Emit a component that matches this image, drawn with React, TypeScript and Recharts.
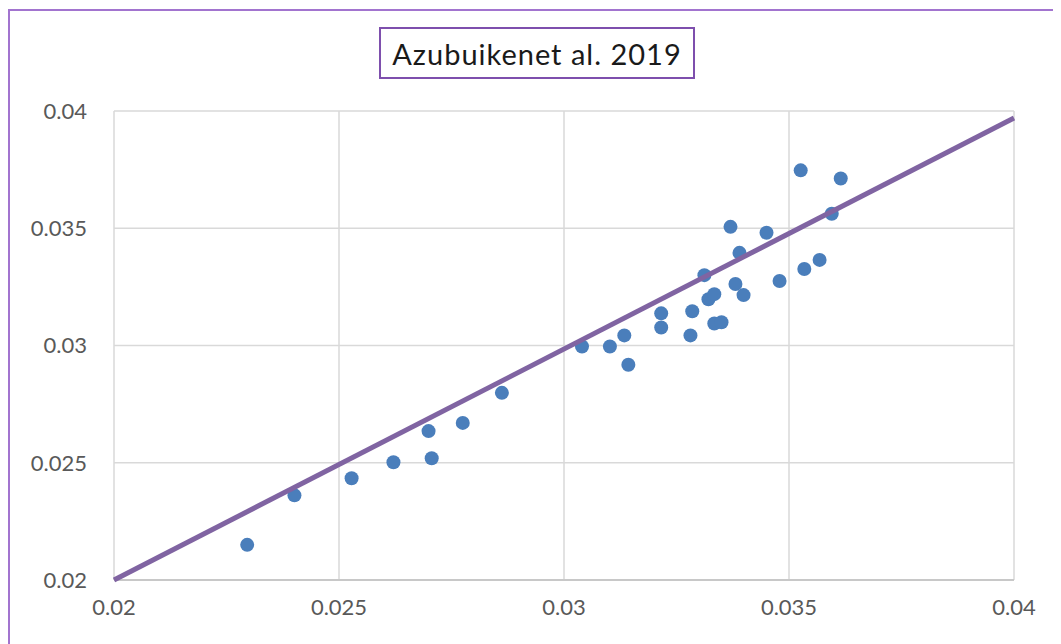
import React from "react";
import {
  ScatterChart,
  Scatter,
  XAxis,
  YAxis,
  CartesianGrid,
} from "recharts";

const xValues = [
  0.02296, 0.02401, 0.02528, 0.02621, 0.02699, 0.02706, 0.02775, 0.02862,
  0.0304, 0.03102, 0.03134, 0.03143, 0.03216, 0.03216, 0.03281, 0.03285,
  0.03312, 0.03321, 0.03334, 0.03334, 0.0335, 0.0337, 0.03381, 0.0339,
  0.03399, 0.0345, 0.03479, 0.03526, 0.03534, 0.03568, 0.03595, 0.03615,
];
const yValues = [
  0.0215, 0.02361, 0.02434, 0.02502, 0.02635, 0.02519, 0.0267, 0.02798,
  0.02996, 0.02996, 0.03043, 0.02918, 0.03137, 0.03077, 0.03043, 0.03146,
  0.033, 0.03197, 0.03219, 0.03094, 0.03099, 0.03506, 0.03262, 0.03395,
  0.03215, 0.03481, 0.03275, 0.03747, 0.03326, 0.03365, 0.03562, 0.03712,
];
const lineX = [0.02, 0.04];
const lineY = [0.02, 0.0397];
const ticks = [0.02, 0.025, 0.03, 0.035, 0.04];

const points = xValues.map((x, i) => ({ x, y: yValues[i] }));
const linePoints = lineX.map((x, i) => ({ x, y: lineY[i] }));

const font = "Lato, 'Open Sans', sans-serif";

export default function App() {
  return (
    <div
      style={{
        position: "relative",
        width: 1053,
        height: 636,
        borderLeft: "2px solid #a274cf",
        borderTop: "2px solid #a274cf",
        marginTop: 1,
        boxSizing: "border-box",
        fontFamily: font,
      }}
    >
      <div
        style={{
          position: "absolute",
          left: 369,
          top: 16,
          width: 316,
          height: 52,
          border: "2px solid #7e4fad",
          boxSizing: "border-box",
          display: "flex",
          alignItems: "center",
          justifyContent: "center",
          fontSize: 29,
          letterSpacing: 1,
          color: "#1a1a1a",
          background: "#fff",
        }}
      >
        Azubuikenet al. 2019
      </div>
      <ScatterChart
        width={1051}
        height={634}
        margin={{ top: 100, right: 47, bottom: 25, left: 24 }}
      >
        <CartesianGrid stroke="#d9d9d9" strokeWidth={1.5} />
        <XAxis
          type="number"
          dataKey="x"
          domain={[0.02, 0.04]}
          ticks={ticks}
          axisLine={{ stroke: "#c8c8c8", strokeWidth: 2 }}
          tickLine={false}
          tickSize={0}
          tickMargin={19}
          height={40}
          tick={{ fill: "#595959", fontSize: 22, fontFamily: font }}
        />
        <YAxis
          type="number"
          dataKey="y"
          domain={[0.02, 0.04]}
          ticks={ticks}
          axisLine={false}
          tickLine={false}
          tickSize={0}
          tickMargin={27}
          width={80}
          tick={{ fill: "#595959", fontSize: 22, fontFamily: font }}
        />
        <Scatter
          data={points}
          fill="#4a7ebb"
          isAnimationActive={false}
          shape={(p: any) => <circle cx={p.cx} cy={p.cy} r={7} fill="#4a7ebb" />}
        />
        <Scatter
          data={linePoints}
          line={{ stroke: "#8064a2", strokeWidth: 5 }}
          shape={() => <g />}
          isAnimationActive={false}
        />
      </ScatterChart>
    </div>
  );
}
